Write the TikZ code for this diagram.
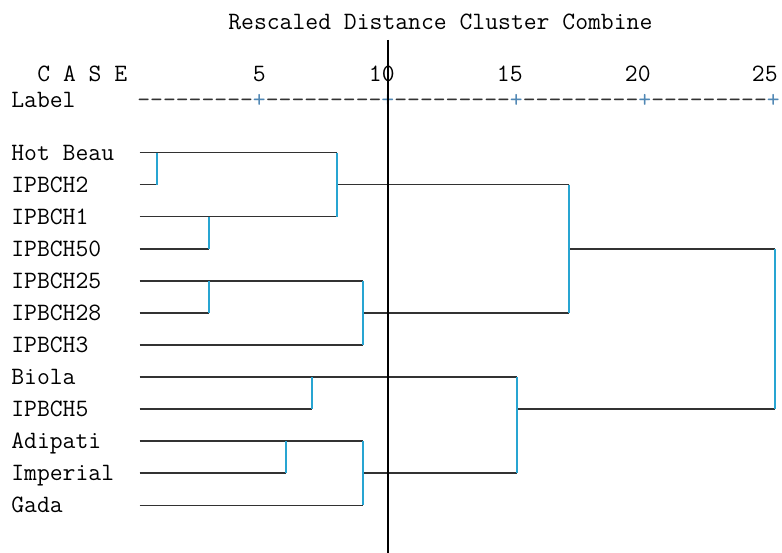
\documentclass[tikz,border=0pt]{standalone}
\usepackage{fontspec}
\usepackage{xcolor}
\usepackage{tikz}
\usetikzlibrary{positioning}
\definecolor{branchgray}{RGB}{50,50,50}
\definecolor{jointcyan}{RGB}{40,165,210}
\definecolor{ticksblue}{RGB}{80,135,180}
\tikzstyle{branch} = [draw=branchgray, line width=0.8pt]
\tikzstyle{joint} = [draw=jointcyan, line width=0.65pt]
\tikzstyle{cutline} = [draw=black, line width=0.6pt]

\begin{document}
\begin{tikzpicture}[x=0.02cm, y=-0.02cm,
every node/.style={font=\ttfamily\fontsize{14.2}{16}\selectfont, inner sep=0pt, text height=8.6pt, text depth=0pt},
leaf/.style={anchor=west, text width=2.56cm, execute at begin node={\spaceskip=0pt\xspaceskip=0pt\relax}},
scalenum/.style={anchor=east},]
\useasboundingbox (0,0) rectangle (782,553);
% header
\node[anchor=west] (title) at (228,21.5) {Rescaled Distance Cluster Combine};
\node[anchor=west] (case) at (37,73.5) {C A S E};
\node[anchor=west] (label) at (11,99.5) {Label};
\node[anchor=west] (scale) at (137,99.5) {\textcolor{branchgray}{---------}\textcolor{ticksblue}{+}\textcolor{branchgray}{---------}\textcolor{ticksblue}{+}\textcolor{branchgray}{---------}\textcolor{ticksblue}{+}\textcolor{branchgray}{---------}\textcolor{ticksblue}{+}\textcolor{branchgray}{---------}\textcolor{ticksblue}{+}};
\node[scalenum] (five) at (266,73.5) {5};
\node[scalenum] (ten) at (395,73.5) {10};
\node[scalenum] (fifteen) at (523,73.5) {15};
\node[scalenum] (twenty) at (651,73.5) {20};
\node[scalenum] (twentyfive) at (778,73.5) {25};
% cases
\node[leaf] (hotbeau) at (11,152.7) {Hot Beau};
\node[leaf] (ipbch2) at (11,184.75) {IPBCH2};
\node[leaf] (ipbch1) at (11,216.8) {IPBCH1};
\node[leaf] (ipbch50) at (11,248.85) {IPBCH50};
\node[leaf] (ipbch25) at (11,280.9) {IPBCH25};
\node[leaf] (ipbch28) at (11,312.95) {IPBCH28};
\node[leaf] (ipbch3) at (11,345) {IPBCH3};
\node[leaf] (biola) at (11,377.05) {Biola};
\node[leaf] (ipbch5) at (11,409.1) {IPBCH5};
\node[leaf] (adipati) at (11,441.15) {Adipati};
\node[leaf] (imperial) at (11,473.2) {Imperial};
\node[leaf] (gada) at (11,505.25) {Gada};
% merge points
\coordinate (m1) at (157,152.7);
\coordinate (m2) at (209,216.8);
\coordinate (m3) at (337,184.75);
\coordinate (m4) at (209,280.9);
\coordinate (m5) at (363,312.95);
\coordinate (m6) at (569,248.85);
\coordinate (m7) at (312,377.05);
\coordinate (m8) at (286,441.15);
\coordinate (m9) at (363,473.2);
\coordinate (m10) at (517,409.1);
\coordinate (m11) at (775,329);
% horizontal branches
\draw[branch] (hotbeau.east) -- (m3 |- hotbeau.east);
\draw[branch] (ipbch2.east) -- (m1 |- ipbch2.east);
\draw[branch] (ipbch1.east) -- (m3 |- ipbch1.east);
\draw[branch] (ipbch50.east) -- (m2 |- ipbch50.east);
\draw[branch] (m3) -- (m6 |- m3);
\draw[branch] (ipbch25.east) -- (m5 |- ipbch25.east);
\draw[branch] (ipbch28.east) -- (m4 |- ipbch28.east);
\draw[branch] (ipbch3.east) -- (m5 |- ipbch3.east);
\draw[branch] (m5) -- (m6 |- m5);
\draw[branch] (m6) -- (m11 |- m6);
\draw[branch] (biola.east) -- (m10 |- biola.east);
\draw[branch] (ipbch5.east) -- (m7 |- ipbch5.east);
\draw[branch] (adipati.east) -- (m9 |- adipati.east);
\draw[branch] (imperial.east) -- (m8 |- imperial.east);
\draw[branch] (gada.east) -- (m9 |- gada.east);
\draw[branch] (m9) -- (m10 |- m9);
\draw[branch] (m10) -- (m11 |- m10);
% vertical joins
\draw[joint] (m1 |- hotbeau.east) -- (m1 |- ipbch2.east);
\draw[joint] (m2 |- ipbch1.east) -- (m2 |- ipbch50.east);
\draw[joint] (m3 |- hotbeau.east) -- (m3 |- ipbch1.east);
\draw[joint] (m4 |- ipbch25.east) -- (m4 |- ipbch28.east);
\draw[joint] (m5 |- ipbch25.east) -- (m5 |- ipbch3.east);
\draw[joint] (m6 |- m3) -- (m6 |- m5);
\draw[joint] (m7 |- biola.east) -- (m7 |- ipbch5.east);
\draw[joint] (m8 |- adipati.east) -- (m8 |- imperial.east);
\draw[joint] (m9 |- adipati.east) -- (m9 |- gada.east);
\draw[joint] (m10 |- biola.east) -- (m10 |- m9);
\draw[joint] (m11 |- m6) -- (m11 |- m10);
% cut line
\coordinate (cuttop) at (388,40);
\coordinate (cutbottom) at (388,553);
\draw[cutline] (cuttop) -- (cutbottom);
\end{tikzpicture}
\end{document}
